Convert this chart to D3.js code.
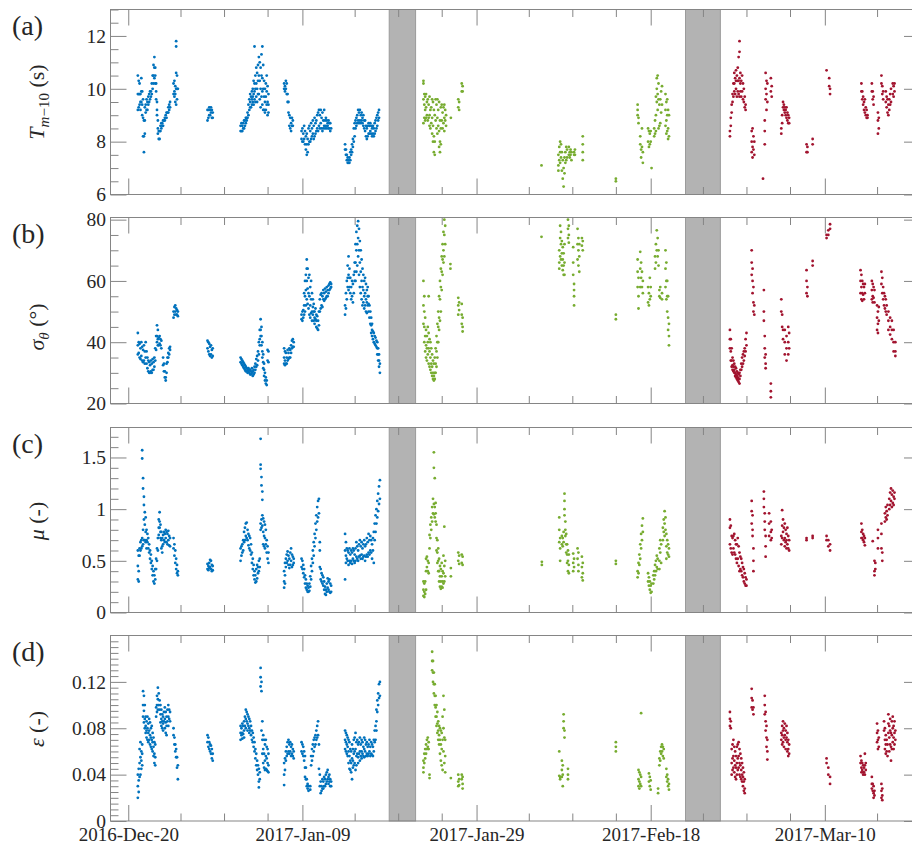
<!DOCTYPE html>
<html><head><meta charset="utf-8">
<script src="https://cdn.jsdelivr.net/npm/d3@7"></script>
<style>body{margin:0;background:#fff}svg{display:block}</style>
</head><body>
<svg id="c" width="912" height="846"></svg>
<script>
// ---------- categories / ticks ----------
const baseDate = Date.UTC(2016, 11, 20);           // day 0 = 2016-Dec-20
const xDomainDays = [-2.04, 90.93];
const majorTickDays = [0, 20, 40, 60, 80];
const majorTickLabels = ["2016-Dec-20", "2017-Jan-09", "2017-Jan-29", "2017-Feb-18", "2017-Mar-10"];
const minorTickDays = [6, 11, 16, 26, 31, 36, 46, 51, 56, 66, 71, 76, 86];
const gapBands = [[29.97, 33.0], [64.0, 68.0]];     // shaded periods (days)
const seriesColors = ["#0072BD", "#77AC30", "#A2142F"];

// ---------- series values: [day, value, value, ...] ----------
const tmBlue = [[1.1,10.5,9.8,9.2],[1.2,10.3,9.8,9.3],[1.3,10.2,9.8,9.4],[1.4,9.8,9.5,9.2],[1.5,10.4,9.9,9.5],[1.6,9.9,9.4,9.0],[1.7,9.6,8.9,8.2],[1.8,8.8,8.2,7.6],[1.9,9.3,8.8,8.3],[2.0,9.4,9.1],[2.1,9.6,9.2],[2.2,9.5,9.2],[2.3,9.7,9.4],[2.4,9.8,9.5],[2.5,9.9,9.6],[2.6,9.9,9.7],[2.7,10.2,9.8],[2.8,10.5,10.0],[2.9,10.9,10.5,10.2],[3.0,11.2,10.8,10.4],[3.1,10.8,10.5,10.2],[3.2,10.2,9.9,9.6],[3.3,9.5,9.2,9.0],[3.4,8.8,8.5,8.3],[3.5,8.4,8.1],[3.6,8.4,8.1],[3.7,8.6,8.4],[3.8,8.7,8.5],[3.9,8.7,8.6],[4.0,8.8,8.6],[4.1,8.8],[4.2,8.9,8.8],[4.3,9.0],[4.4,9.1,8.9],[4.5,9.1],[4.6,9.3,9.1],[4.7,9.4,9.2],[4.8,9.5,9.3],[5.2,10.2,9.8],[5.3,10.3,9.9,9.7],[5.4,10.1,9.8,9.5],[5.5,11.8,11.6,10.6,10.0,9.4],[5.6,10.5,10.0,9.6],[5.7,10.0],
[9.1,9.2,8.8],[9.2,9.2,8.9],[9.3,9.3,9.0],[9.4,9.2,9.0],[9.5,9.3,9.1],[9.6,9.2,8.9],[9.7,9.1,8.9],
[12.9,8.6,8.4],[13.0,8.7,8.4],[13.1,8.6,8.4],[13.2,8.7,8.5],[13.3,8.8,8.5],[13.4,8.8,8.6],[13.5,8.9,8.7],[13.6,8.9,8.8],[13.7,9.1,8.9],[13.8,9.4,9.0],[13.9,9.6,9.2],[14.0,9.8,9.5,9.3],[14.1,9.7,9.3],[14.2,9.9,9.6,9.4],[14.3,10.0,9.7,9.5],[14.4,10.3,9.8,9.4],[14.5,11.6,10.2,9.9,9.6],[14.6,10.5,10.0,9.5],[14.7,10.8,10.2,9.7],[14.8,10.6,10.0,9.5],[14.9,10.9,10.3,9.8],[15.0,11.2,10.5,9.8],[15.1,11.0,10.3,9.6],[15.2,10.8,10.0,9.3],[15.3,11.3,10.5,9.7],[15.4,11.6,10.4,9.9,9.4],[15.5,10.9,10.0,9.2],[15.6,10.3,9.7,9.2],[15.7,10.0,9.5,9.1],[15.8,10.2,9.7,9.2],[15.9,10.5,9.9,9.4],[16.0,10.1,9.5,9.0],[16.1,9.8,9.4,9.1],
[17.9,10.2,10.0],[18.0,10.1,9.9],[18.1,10.3,10.0],[18.2,10.2,9.8],[18.3,9.8,9.5],[18.4,9.5,9.1],[18.5,9.0,8.6],[18.6,8.9,8.5],[18.7,8.7,8.4],[18.8,8.9,8.6],[18.9,8.8,8.6],
[19.9,8.4,8.1],[20.0,8.5,8.0],[20.1,8.3,8.0],[20.2,8.6,8.1],[20.3,8.4,7.9],[20.4,8.2,7.7],[20.5,8.3,7.9,7.5],[20.6,8.1,7.6],[20.7,8.5,7.9],[20.8,8.6,8.0],[20.9,8.4,8.0],[21.0,8.7,8.1],[21.1,8.5,8.2],[21.2,8.8,8.3],[21.3,8.6,8.1],[21.4,8.9,8.2],[21.5,8.7,8.3],[21.6,8.8,8.4],[21.7,9.0,8.5],[21.8,9.1,8.4],[21.9,9.2,8.6],[22.0,9.0,8.5],[22.1,9.2,8.7],[22.2,8.9,8.5],[22.3,9.1,8.4],[22.4,8.8,8.5],[22.5,9.2,8.6],[22.6,8.8,8.5],[22.7,8.9,8.6],[22.8,8.8,8.5],[22.9,8.7,8.6],[23.0,8.8,8.5],[23.1,8.7,8.5],[23.2,8.7,8.4],[23.3,8.5],
[24.9,7.9,7.7],[25.0,7.7,7.5],[25.1,7.5,7.3],[25.2,7.4,7.2],[25.3,7.3,7.2],[25.4,7.4,7.2],[25.5,7.6,7.3],[25.6,7.7,7.5],[25.7,7.9,7.6],[25.8,8.1,7.8],[25.9,8.5,8.0],[26.0,8.7,8.2],[26.1,8.8,8.5],[26.2,8.9,8.6],[26.3,9.0,8.7],[26.4,9.2,8.8],[26.5,9.1,8.7],[26.6,9.2,8.8],[26.7,9.0,8.7],[26.8,9.1,8.8],[26.9,8.9,8.7],[27.0,9.0,8.6],[27.1,8.8,8.5],[27.2,8.8,8.4],[27.3,8.6,8.2],[27.4,8.5,8.1],[27.5,8.6,8.2],[27.6,8.7,8.3],[27.7,8.6,8.3],[27.8,8.7,8.4],[27.9,8.6,8.3],[28.0,8.5,8.2],[28.1,8.6,8.3],[28.2,8.5,8.2],[28.3,8.7,8.3],[28.4,8.8,8.4],[28.5,8.9,8.5],[28.6,9.0,8.6],[28.7,9.1,8.8],[28.8,9.2,8.9]];
const tmGreen = [[33.9,10.3,10.2,9.6,8.7],[34.0,9.8,9.4,8.9],[34.1,9.7,9.2,8.8],[34.2,9.8,9.3,8.9],[34.3,9.5,9.0],[34.4,9.6,8.8],[34.5,9.4,8.9],[34.6,9.7,9.0,8.6],[34.7,9.2,8.5],[34.8,9.3,8.7],[34.9,9.6,8.9,8.3],[35.0,9.5,8.6,8.0],[35.1,9.2,8.2,7.6],[35.2,9.0,8.0,7.5],[35.3,9.6,8.8],[35.4,9.4,8.5],[35.5,9.6,8.9,8.3],[35.6,9.2,8.6],[35.7,9.5,8.4,7.8],[35.8,8.8,8.0,7.6],[35.9,9.3,8.5,7.9],[36.0,9.4,8.8],[36.1,9.1,8.5],[36.2,9.3,8.7],[36.3,9.4,8.9,8.4],[36.4,9.2,8.8],[36.5,9.0,8.6],[37.05,8.9],[37.9,9.6,9.3],[38.0,9.5,9.2],[38.3,10.2,9.9],[38.4,10.1,9.9],
[47.46,7.1],[49.4,7.5,7.1,6.9],[49.5,7.8,7.3],[49.6,8.0,7.6,7.2],[49.7,7.9,7.4],[49.8,7.6,6.9],[49.9,7.3,6.6],[50.0,7.0,6.3],[50.1,7.4,6.8],[50.2,7.6,7.2],[50.3,7.8,7.3],[50.4,7.7,7.4],[50.6,7.8,7.5],[50.7,7.6,7.4],[50.8,7.7,7.5],[50.9,7.6,7.3],[51.2,7.6,7.5],[51.3,7.7,7.5],[52.2,8.2,7.9,7.6,7.3],
[56.0,6.6,6.5],[58.5,9.4,9.2,9.0],[58.6,8.9,8.7],[58.8,8.2,7.9],[58.9,7.7,7.4],[59.0,8.5,7.8],[59.1,7.6,7.2],[59.7,8.5,8.0],[59.8,8.4,7.8],[59.9,8.3,7.9],[60.0,8.4,8.0],[60.1,7.0],[60.4,8.5,8.2],[60.5,8.8,8.3],[60.6,9.7,9.0,8.4],[60.7,10.4,10.0,9.5],[60.8,10.5,9.8,9.2],[60.9,10.2,9.6,8.5],[61.0,9.4,8.6],[61.1,9.6,8.7],[61.2,9.9,9.1],[61.3,10.1,9.4],[61.7,9.8,9.2,8.6],[61.8,9.5,8.8,8.3],[61.9,9.6,9.0,8.4],[62.0,9.2,8.5,8.1],[62.1,9.0,8.2]];
const tmRed = [[69.1,8.4,8.2],[69.2,8.9,8.6],[69.3,9.4,9.1],[69.4,9.8,9.5],[69.5,10.2,9.7],[69.6,10.6,10.2,9.9],[69.7,10.4,9.8],[69.8,10.7,10.3,10.0],[69.9,10.5,9.7],[70.0,10.8,10.3,9.9],[70.1,11.2,10.3,9.8],[70.2,11.8,11.4,10.4,9.7],[70.3,10.6,10.2,9.9],[70.4,10.3,9.7],[70.5,10.5,9.9],[70.6,10.2,9.6],[70.7,10.0,9.5],[70.8,9.7,9.3],[70.9,9.4,9.2],
[71.6,8.4,8.0,7.6],[71.7,8.5,7.8,7.4],[71.8,8.2,7.7],[71.9,8.0,7.5],[72.9,6.6],[73.1,8.8,8.4,7.9],[73.2,10.6,10.0,9.6],[73.3,10.3,9.8,9.2],[73.4,10.2,9.5],[73.8,10.4,9.9],[73.9,10.1,9.7],
[75.0,8.5,8.3],[75.1,9.0,8.7],[75.2,9.5,9.3],[75.3,9.4,9.2],[75.4,9.3,9.1],[75.5,9.2,9.0],[75.6,9.3,8.9],[75.7,9.1,8.8],[75.8,9.0,8.7],[75.9,8.9,8.7],
[77.9,7.9,7.6],[78.0,7.8,7.6],[78.6,8.1,7.9],[80.2,10.7],[80.5,10.4,10.1],[80.6,10.0,9.8],
[84.2,10.2,9.9],[84.3,9.9,9.6],[84.4,9.7,9.4],[84.5,9.5,9.2],[84.6,9.6,9.1],[84.7,9.3,9.0],[84.8,9.2,8.9],[84.9,9.0,8.9],[85.4,10.2,9.9],[85.5,9.9,9.6],[85.6,9.7,9.4],[86.1,9.1,8.8,8.3],[86.2,8.9,8.5],[86.5,10.5,10.2],[86.6,10.1,9.8],[86.7,9.9,9.6],[87.0,9.9,9.5],[87.1,9.7,9.3],[87.2,9.6,9.1],[87.3,9.4,9.0],[87.4,9.6,9.2],[87.5,9.8,9.4],[87.6,10.0,9.5],[87.8,10.2,9.8],[87.9,10.1,9.7],[88.0,10.2,9.9]];

const sigBlue = [[1.1,43.0,39.0,36.0],[1.2,40.0,36.5],[1.3,39.5,35.0],[1.4,38.0,34.5],[1.5,40.0,35.5],[1.6,38.5,34.0],[1.7,37.5,33.5],[1.8,39.0,34.0],[1.9,37.0,33.0],[2.0,40.0,35.0],[2.1,37.0,33.0],[2.2,35.0,31.5],[2.3,34.0,30.5],[2.4,33.5,30.0],[2.5,32.5,30.0],[2.6,34.0,30.5],[2.7,33.0,30.0],[2.8,34.5,31.0],[2.9,33.5,31.0],[3.0,35.0,32.0],[3.1,38.0,34.0],[3.2,42.0,37.5],[3.3,45.5,42.0,40.0],[3.4,44.0,41.0,39.0],[3.5,41.5,39.0],[3.6,42.0,39.5],[3.7,41.0,39.0],[3.8,40.5,38.0],[4.0,35.0,32.5],[4.1,33.0,30.5],[4.2,30.5,28.5],[4.3,28.5,27.5],[4.4,33.0,30.0],[4.5,35.0,33.5],[4.6,36.5,35.0],[4.7,38.0,36.0],[4.8,38.5,37.5],[5.2,50.0,48.0],[5.3,51.5,49.0],[5.4,52.0,50.0],[5.5,51.0,49.0],[5.6,50.5,49.0],[5.7,50.0,48.5],
[9.1,40.5,38.0],[9.2,40.0,37.0],[9.3,39.5,36.0],[9.4,38.5,35.5],[9.5,39.0,36.0],[9.6,37.5,35.0],[9.7,38.0,35.5],
[12.9,35.0,33.5],[13.0,34.5,33.0],[13.1,34.0,32.5],[13.2,33.5,32.0],[13.3,33.0,31.5],[13.4,32.5,31.0],[13.5,32.0,30.5],[13.6,31.5,30.5],[13.7,31.0,30.0],[13.8,31.5,30.5],[13.9,31.0,30.0],[14.0,31.0,29.5],[14.1,30.5,29.5],[14.2,31.5,30.0],[14.3,30.5,29.0],[14.4,31.0,29.5],[14.5,32.0,30.0],[14.6,33.0,31.0],[14.7,34.5,32.0],[14.8,35.5,32.5],[14.9,37.0,34.0],[15.0,40.0,36.0],[15.1,44.0,41.0,39.0],[15.2,47.5,44.0,42.0],[15.3,45.0,42.0,39.0],[15.4,40.0,37.0,35.0],[15.5,36.0,33.5,31.5],[15.6,33.0,31.0,29.0],[15.7,30.0,27.5],[15.8,28.5,26.5],[15.9,27.5,26.0],[16.0,37.5,34.0],[16.1,37.0,33.5],
[17.9,38.0,35.0,33.0],[18.0,37.0,34.0,32.5],[18.1,36.5,33.0],[18.2,35.0,33.0],[18.3,37.5,34.0],[18.4,36.5,34.5],[18.5,38.0,35.0],[18.6,37.5,35.0],[18.7,39.0,36.5],[18.8,40.5,38.0],[18.9,41.0,38.5],[19.0,40.0,38.5],
[19.9,49.0,47.5],[20.0,50.0,47.0],[20.1,50.5,48.0],[20.2,56.0,52.0,49.0],[20.3,60.0,55.0,50.0],[20.4,62.0,57.0,52.0],[20.5,67.0,64.0,60.0,54.0],[20.6,64.0,57.5,52.5],[20.7,61.0,56.0,51.0],[20.8,62.0,55.0,49.0],[20.9,58.0,52.0,48.0],[21.0,60.0,54.0,49.5],[21.1,56.0,50.0,47.0],[21.2,54.0,51.5,49.0],[21.3,52.5,50.0,47.0],[21.4,50.0,48.0,46.0],[21.5,51.0,47.5],[21.6,49.0,47.0,45.0],[21.7,48.5,44.5],[21.8,47.0,44.0],[21.9,50.0,45.5],[22.0,54.0,50.0],[22.1,55.5,51.0],[22.2,56.0,52.0],[22.3,55.0,51.5],[22.4,57.0,54.0],[22.5,56.0,53.5],[22.6,57.5,54.0],[22.7,56.5,54.5],[22.8,58.0,55.0],[22.9,57.0,55.0],[23.0,58.5,56.0],[23.1,59.0,57.0],[23.2,59.5,57.5],[23.3,59.0,58.0],
[24.9,52.0,49.0],[25.0,56.0,51.0],[25.1,60.0,54.0],[25.2,65.0,61.0,58.0],[25.3,68.0,62.0,57.0],[25.4,64.0,61.0,58.0],[25.5,61.0,56.0],[25.6,58.0,54.0],[25.7,60.0,55.0],[25.8,59.0,53.0],[25.9,62.0,56.0],[26.0,66.0,63.0,60.0],[26.1,72.0,66.0,60.0],[26.2,76.0,70.0,63.0],[26.3,78.0,72.0,65.0],[26.4,79.5,74.0,68.0],[26.5,77.0,70.0,62.0],[26.6,73.0,66.0,58.0],[26.7,70.0,63.0,56.0],[26.8,67.0,60.0,54.0],[26.9,64.0,58.0,52.0],[27.0,62.0,57.0,53.0],[27.1,60.0,55.0,51.0],[27.2,61.0,56.0,52.0],[27.3,59.0,54.0,50.0],[27.4,57.0,53.0,49.5],[27.5,58.0,55.0,52.0],[27.6,55.0,52.5,50.0],[27.7,52.0,48.0],[27.8,50.0,46.0],[27.9,48.0,45.5,43.0],[28.0,46.0,44.0,42.0],[28.1,43.5,41.0],[28.2,43.0,40.0],[28.3,42.0,39.5],[28.4,41.5,39.0],[28.5,40.5,38.5],[28.6,40.0,38.0,36.0],[28.7,38.0,36.0,34.0],[28.8,36.0,34.0,32.0],[28.9,33.0,30.0]];
const sigGreen = [[33.9,60.0,52.0,46.0],[34.0,55.0,50.0,45.0,40.0],[34.1,48.0,42.0,37.0],[34.2,44.0,39.0,35.0],[34.3,42.0,38.0,34.0],[34.4,45.0,40.0,36.0],[34.5,55.0,43.0,38.0,33.0],[34.6,41.0,37.0,32.0],[34.7,40.0,35.0,31.0],[34.8,38.0,33.0,30.0],[34.9,36.0,32.0,29.0],[35.0,34.0,30.0,28.0],[35.1,33.0,29.0,27.5],[35.2,35.0,30.0,28.0],[35.3,38.0,33.0,30.0],[35.4,42.0,37.0,32.0],[35.5,46.0,40.0,35.0],[35.6,50.0,45.0,40.0],[35.7,55.0,48.0,44.0],[35.8,60.0,54.0,47.0],[35.9,64.0,58.0,50.0],[36.0,68.0,63.0,57.0],[36.1,72.0,67.0,62.0],[36.2,76.0,70.0,66.0],[36.3,80.0,75.0,68.0],[36.4,78.0,72.0],[37.0,65.5,64.0],[37.9,54.5,52.0,49.0],[38.0,53.0,50.5],[38.3,52.5,49.0,46.0],[38.4,48.0,45.0,43.5],
[47.46,74.4],[49.5,70.0,66.0,64.0],[49.6,78.0,74.0,68.0],[49.7,76.0,72.0,67.0],[49.8,73.0,69.0,65.0],[49.9,71.0,67.0,63.5],[50.0,69.0,65.0,62.0],[50.1,72.0,66.0,62.0],[50.5,80.0,77.0,74.0],[50.6,78.0,75.0,72.5],[51.1,71.0,66.0,62.0],[51.2,59.0,57.0,55.0,52.0],[51.6,77.0,72.0,67.0],[51.7,74.0,70.0,65.0],[51.8,72.0,68.0,63.0],[52.1,74.0,71.5],[52.2,73.0,70.0],
[56.0,49.0,47.5],[58.5,67.0,63.0,58.0],[58.6,61.0,55.0,51.0],[58.8,69.5,64.0,58.0],[58.9,66.0,61.0],[59.0,63.0,58.0],[59.1,60.0,56.0],[59.7,58.0,53.0],[59.8,56.0,52.0],[59.9,61.0,54.0],[60.0,58.0,55.0],[60.5,68.0,64.0],[60.6,72.0,66.0],[60.7,76.5,70.0],[60.8,74.0,68.0],[60.9,70.0,65.0],[61.0,57.0,55.0],[61.1,58.0,54.5],[61.3,56.0,54.0],[61.7,70.0,64.0,58.0],[61.8,66.0,60.0,54.0],[61.9,60.0,55.0,50.0],[62.0,55.0,48.0,44.0],[62.1,46.0,42.0,39.0]];
const sigRed = [[69.1,44.0,41.0,38.0],[69.2,41.0,37.0,34.0],[69.3,38.0,34.0,32.0],[69.4,35.0,32.5,31.0],[69.5,34.0,32.0,30.5],[69.6,33.0,31.0,30.0],[69.7,32.0,30.0,29.0],[69.8,31.5,29.5,28.5],[69.9,30.5,29.0,28.0],[70.0,30.0,28.5,27.5],[70.1,29.5,28.0,27.0],[70.2,30.0,28.0,26.5],[70.3,31.0,29.0],[70.4,33.0,31.0],[70.5,35.0,32.0],[70.6,36.0,33.0],[70.7,37.0,34.0],[70.8,38.0,35.5],[70.9,41.0,37.0],[71.0,43.0,39.0],
[71.6,70.0,66.0,62.0],[71.7,64.0,60.0,56.0],[71.8,58.0,53.0,50.0],[71.9,52.0,49.0],[73.0,57.0,50.0,47.0],[73.1,42.0,38.0,35.0],[73.2,36.0,33.0,31.5],[73.8,26.5,24.0,22.0],
[75.0,54.0,50.0],[75.1,49.0,45.0],[75.2,44.0,41.0],[75.4,44.0,40.0,36.0],[75.6,42.0,38.0,34.0],[75.8,45.0,40.0,36.0],[75.9,43.0,38.0],
[77.9,63.5,60.0,56.0],[78.0,58.0,55.0],[78.6,66.5,65.0],[80.2,75.0,74.0],[80.4,76.5,75.0],[80.6,78.5,77.0],
[84.1,63.5,60.0,56.0],[84.2,62.0,58.0,54.0],[84.3,60.0,56.0,53.5],[84.4,59.0,55.5],[84.5,58.0,54.0],[84.6,59.0,56.0],[85.4,60.0,57.0,54.0],[85.5,59.0,55.0,53.0],[85.6,58.0,54.5],[85.7,57.0,53.0],[86.0,52.0,48.0,44.0],[86.1,50.0,46.0,43.0],[86.2,51.5,47.0],[86.5,63.0,59.0],[86.6,61.0,56.0],[86.7,58.0,54.0],[86.8,56.0,52.0],[86.9,55.0,51.0],[87.0,54.0,50.0],[87.1,52.0,49.0],[87.3,50.0,47.0,44.0],[87.5,48.0,45.0,42.5],[87.7,47.0,44.0,41.0],[87.9,44.0,40.0,37.0],[88.1,40.0,37.0,35.5]];

const muBlue = [[1.1,0.60,0.45,0.32],[1.2,0.55,0.40,0.30],[1.3,0.62,0.55],[1.4,0.68,0.60],[1.5,0.70,0.62],[1.6,1.57,1.49,0.72,0.64],[1.7,1.30,1.20,0.80,0.66],[1.8,1.12,1.04,0.90,0.70],[1.9,0.97,0.85,0.70],[2.0,0.92,0.78,0.68],[2.1,0.80,0.70,0.62],[2.2,0.76,0.68],[2.3,0.72,0.62],[2.4,0.66,0.58],[2.5,0.60,0.52],[2.6,0.56,0.48],[2.7,0.50,0.42],[2.8,0.45,0.36],[2.9,0.40,0.30],[3.0,0.36,0.28],[3.1,0.42,0.32],[3.2,0.52,0.42],[3.3,0.62,0.50],[3.4,0.72,0.60],[3.5,0.90,0.82,0.75],[3.6,0.97,0.88,0.82],[3.7,0.85,0.78,0.72],[3.8,0.78,0.70,0.62],[3.9,0.72,0.64,0.58],[4.0,0.75,0.66],[4.1,0.78,0.70],[4.2,0.76,0.68],[4.3,0.80,0.72],[4.4,0.78,0.68],[4.5,0.76,0.66],[4.6,0.79,0.70],[4.7,0.74,0.65],[4.8,0.72,0.64],[5.2,0.72,0.62],[5.3,0.66,0.55],[5.4,0.60,0.48],[5.5,0.52,0.42],[5.6,0.46,0.38],[5.7,0.40,0.36],
[9.1,0.47,0.42],[9.2,0.45,0.41],[9.3,0.48,0.43],[9.4,0.51,0.44],[9.5,0.50,0.42],[9.6,0.46,0.40],[9.7,0.45,0.41],
[12.9,0.62,0.50],[13.0,0.64,0.55],[13.1,0.66,0.58],[13.2,0.70,0.60],[13.3,0.78,0.68],[13.4,0.82,0.70],[13.5,0.86,0.74],[13.6,0.87,0.72],[13.7,0.80,0.70],[13.8,0.76,0.65],[13.9,0.74,0.62],[14.0,0.72,0.60],[14.1,0.66,0.56],[14.2,0.58,0.48],[14.3,0.52,0.42],[14.4,0.46,0.36],[14.5,0.40,0.32],[14.6,0.36,0.29],[14.7,0.42,0.30],[14.8,0.46,0.33],[14.9,0.44,0.38],[15.0,0.50,0.40],[15.1,0.52,0.44],[15.2,1.68,1.43,1.39,0.86,0.80],[15.3,1.31,1.23,0.90,0.82],[15.4,1.17,1.09,0.94,0.84],[15.5,0.91,0.78,0.66],[15.6,0.88,0.74,0.64],[15.7,0.85,0.72,0.62],[15.8,0.80,0.66],[15.9,0.70,0.58],[16.0,0.64,0.52],[16.1,0.58,0.48],
[17.9,0.40,0.30,0.24],[18.0,0.48,0.36,0.28],[18.1,0.52,0.44],[18.2,0.56,0.48],[18.3,0.59,0.50],[18.4,0.55,0.46],[18.5,0.52,0.43],[18.6,0.58,0.46],[18.7,0.62,0.50],[18.8,0.56,0.44],[18.9,0.54,0.46],[19.0,0.52,0.48],
[19.9,0.52,0.44],[20.0,0.50,0.42],[20.1,0.46,0.38],[20.2,0.42,0.34],[20.3,0.36,0.28],[20.4,0.32,0.24],[20.5,0.28,0.22],[20.6,0.26,0.20],[20.7,0.24,0.20],[20.8,0.28,0.21],[20.9,0.35,0.25],[21.0,0.45,0.32],[21.1,0.52,0.40],[21.2,0.60,0.48],[21.3,0.68,0.55],[21.4,0.76,0.64],[21.5,0.86,0.72],[21.6,0.94,0.80],[21.7,1.02,0.88],[21.8,1.08,0.92],[21.9,1.10,0.96],[22.0,0.68,0.60,0.44],[22.1,0.42,0.32],[22.2,0.38,0.30],[22.3,0.36,0.28],[22.4,0.34,0.26],[22.5,0.30,0.22],[22.6,0.25,0.18],[22.7,0.22,0.17],[22.8,0.28,0.20],[22.9,0.33,0.24],[23.0,0.30,0.22],[23.1,0.32,0.20],[23.2,0.28,0.19],[23.3,0.26,0.20],
[24.9,0.76,0.60,0.32],[25.0,0.68,0.55,0.48],[25.1,0.62,0.52],[25.2,0.60,0.50],[25.3,0.58,0.46],[25.4,0.62,0.50],[25.5,0.56,0.48],[25.6,0.60,0.50],[25.7,0.58,0.47],[25.8,0.62,0.52],[25.9,0.60,0.50],[26.0,0.56,0.48],[26.1,0.62,0.50],[26.2,0.68,0.54],[26.3,0.64,0.52],[26.4,0.60,0.50],[26.5,0.66,0.54],[26.6,0.70,0.55],[26.7,0.64,0.52],[26.8,0.68,0.56],[26.9,0.62,0.52],[27.0,0.66,0.54],[27.1,0.70,0.55],[27.2,0.64,0.50],[27.3,0.66,0.54],[27.4,0.72,0.56],[27.5,0.68,0.54],[27.6,0.76,0.58],[27.7,0.70,0.56],[27.8,0.74,0.60],[27.9,0.70,0.58],[28.0,0.66,0.52],[28.1,0.72,0.60],[28.2,0.78,0.48],[28.3,0.86,0.70],[28.4,0.94,0.78],[28.5,1.00,0.86],[28.6,1.08,0.92],[28.7,1.15,0.98],[28.8,1.22,1.05],[28.9,1.28,1.10]];
const muGreen = [[33.9,0.30,0.22,0.16],[34.0,0.28,0.20,0.15],[34.1,0.30,0.18],[34.2,0.52,0.40,0.22],[34.3,0.54,0.44],[34.4,0.50,0.40],[34.5,0.48,0.38],[34.6,0.75,0.62],[34.7,0.85,0.72],[34.8,0.92,0.80],[34.9,1.02,0.88],[35.0,1.10,0.96],[35.1,1.55,1.40,1.05,0.95],[35.2,1.30,1.02,0.92],[35.3,1.06,0.96,0.88],[35.4,0.85,0.72,0.60],[35.5,0.70,0.58,0.48],[35.6,0.62,0.50,0.40],[35.7,0.52,0.40,0.30],[35.8,0.45,0.35,0.25],[35.9,0.42,0.30,0.23],[36.0,0.48,0.35,0.25],[36.1,0.40,0.30,0.24],[36.2,0.55,0.38,0.28],[36.3,0.83,0.45,0.30],[36.4,0.50,0.35],[37.05,0.43,0.35],[37.9,0.58,0.50],[38.0,0.55,0.47],[38.3,0.56,0.48],[38.4,0.54,0.46],
[47.5,0.49,0.46],[49.5,0.92,0.80,0.68],[49.6,0.72,0.62,0.50],[49.8,0.74,0.66],[49.9,0.72,0.64],[50.0,0.78,0.68],[50.1,1.15,1.08,1.00,0.94],[50.2,0.88,0.80,0.74],[50.3,0.76,0.66,0.58],[50.4,0.66,0.56,0.48],[50.5,0.60,0.50,0.40],[50.6,0.56,0.46,0.38],[51.1,0.57,0.48,0.40],[51.2,0.52,0.44],[51.6,0.62,0.52],[51.7,0.58,0.46,0.40],[52.1,0.54,0.44,0.34],[52.2,0.48,0.38,0.31],
[56.0,0.50,0.47],[58.5,0.40,0.34],[58.6,0.48,0.38],[58.7,0.56,0.46],[58.8,0.66,0.52],[58.9,0.76,0.62],[59.0,0.84,0.70],[59.1,0.91,0.78],[59.7,0.38,0.30],[59.8,0.34,0.26],[59.9,0.30,0.22],[60.0,0.26,0.19],[60.1,0.28,0.20],[60.3,0.36,0.28],[60.4,0.40,0.32],[60.5,0.46,0.36],[60.6,0.50,0.40],[60.7,0.55,0.44],[60.8,0.52,0.42],[61.0,0.62,0.50,0.42],[61.1,0.70,0.58],[61.2,0.66,0.48],[61.4,0.82,0.70],[61.5,0.90,0.78],[61.6,0.98,0.86,0.74],[61.7,0.92,0.80],[61.8,0.76,0.64,0.52],[61.9,0.70,0.58],[62.0,0.66,0.56],[62.1,0.62,0.54]];
const muRed = [[69.1,0.90,0.82,0.66],[69.2,0.84,0.62],[69.3,0.74,0.58],[69.4,0.72,0.56],[69.5,0.74,0.62],[69.6,0.76,0.58],[69.7,0.70,0.56],[69.8,0.66,0.52],[69.9,0.66,0.48],[70.0,0.72,0.52],[70.1,0.64,0.45],[70.2,0.58,0.40],[70.3,0.54,0.42],[70.4,0.52,0.40],[70.5,0.48,0.36],[70.6,0.44,0.34],[70.7,0.42,0.30],[70.8,0.38,0.28],[70.9,0.34,0.26],[71.0,0.32,0.26],
[71.6,1.08,0.98,0.86],[71.7,0.94,0.80,0.74],[71.8,0.62,0.50,0.40],[73.0,1.17,1.10,1.02],[73.1,0.96,0.88,0.80],[73.2,0.74,0.64,0.54],[73.6,0.96,0.86,0.74],[73.8,0.88,0.78,0.70],[73.9,0.80,0.72],
[75.0,0.74,0.66],[75.1,0.99,0.84,0.72],[75.2,0.90,0.78],[75.3,0.82,0.70],[75.4,0.86,0.72,0.64],[75.5,0.80,0.68],[75.6,0.76,0.70,0.62],[75.7,0.82,0.66],[75.8,0.74,0.62],[75.9,0.70,0.60],
[77.9,0.72,0.70],[78.6,0.74,0.72],[80.2,0.74,0.70],[80.4,0.70,0.64],[80.6,0.66,0.60],
[84.2,0.86,0.78,0.72],[84.3,0.80,0.72],[84.4,0.76,0.70],[84.5,0.74,0.68],[84.6,0.72,0.65],[85.5,0.69],[85.7,0.50,0.40,0.36],[85.8,0.48,0.42],[86.1,0.80,0.72,0.62],[86.5,0.86,0.76,0.62],[86.6,0.58,0.50],[86.9,0.96,0.88],[87.0,1.02,0.92],[87.1,0.98,0.90],[87.2,1.04,0.94],[87.4,1.10,1.00],[87.5,1.16,1.04],[87.6,1.20,1.08],[87.7,1.14,1.02],[87.8,1.18,1.06],[87.9,1.12,1.04],[88.0,1.16,1.10]];

const epsBlue = [[1.1,0.040,0.030,0.020],[1.2,0.045,0.035,0.025],[1.3,0.062,0.050,0.038],[1.4,0.068,0.055,0.040],[1.5,0.060,0.052,0.045],[1.6,0.066,0.058,0.048],[1.7,0.112,0.100,0.090],[1.8,0.108,0.095,0.085],[1.9,0.100,0.088,0.080],[2.0,0.090,0.082,0.076],[2.1,0.086,0.078,0.072],[2.2,0.090,0.080,0.070],[2.3,0.084,0.076,0.068],[2.4,0.088,0.078,0.070],[2.5,0.085,0.074,0.066],[2.6,0.080,0.072,0.064],[2.7,0.082,0.070,0.062],[2.8,0.076,0.068,0.060],[2.9,0.072,0.064,0.056],[3.0,0.068,0.058,0.050],[3.1,0.066,0.055,0.048],[3.2,0.098,0.090],[3.3,0.108,0.100,0.094],[3.4,0.115,0.105,0.096],[3.5,0.110,0.100],[3.6,0.104,0.096],[3.7,0.100,0.092,0.085],[3.8,0.096,0.088,0.082],[3.9,0.092,0.086,0.080],[4.0,0.090,0.084,0.078],[4.1,0.094,0.086],[4.2,0.098,0.088,0.080],[4.3,0.094,0.085,0.076],[4.4,0.090,0.082,0.074],[4.5,0.096,0.086],[4.6,0.100,0.090,0.082],[4.7,0.096,0.088],[4.8,0.094,0.086],[5.2,0.080,0.074],[5.3,0.072,0.066],[5.4,0.066,0.060],[5.5,0.062,0.055],[5.6,0.055,0.046],[5.7,0.048,0.036],
[9.1,0.074,0.068],[9.2,0.072,0.064],[9.3,0.068,0.062],[9.4,0.066,0.060],[9.5,0.065,0.058],[9.6,0.062,0.054],[9.7,0.058,0.052],
[12.9,0.082,0.076,0.070],[13.0,0.080,0.074],[13.1,0.084,0.076,0.071],[13.2,0.082,0.075],[13.3,0.086,0.078,0.072],[13.4,0.090,0.082],[13.5,0.096,0.088,0.080],[13.6,0.094,0.086],[13.7,0.092,0.084,0.078],[13.8,0.090,0.082],[13.9,0.088,0.080,0.076],[14.0,0.086,0.078],[14.1,0.082,0.074],[14.2,0.078,0.070],[14.3,0.076,0.068],[14.4,0.072,0.064],[14.5,0.068,0.060],[14.6,0.062,0.054],[14.7,0.058,0.048],[14.8,0.052,0.044],[14.9,0.048,0.040],[15.0,0.045,0.034,0.029],[15.1,0.042,0.036],[15.2,0.132,0.124,0.116],[15.3,0.120,0.112,0.078],[15.4,0.086,0.070,0.058],[15.5,0.074,0.062,0.050],[15.6,0.070,0.058,0.046],[15.7,0.066,0.052,0.044],[15.8,0.070,0.056,0.045],[15.9,0.064,0.054,0.044],[16.0,0.062,0.050,0.043],[16.1,0.058,0.048,0.042],
[17.9,0.050,0.040,0.031],[18.0,0.054,0.044],[18.1,0.060,0.052],[18.2,0.064,0.056],[18.3,0.068,0.058],[18.4,0.070,0.060],[18.5,0.066,0.058],[18.6,0.068,0.060],[18.7,0.064,0.056],[18.8,0.066,0.058],[18.9,0.062,0.056],[19.0,0.060,0.054],
[19.9,0.068,0.060],[20.0,0.066,0.058],[20.1,0.064,0.056],[20.2,0.060,0.052],[20.3,0.056,0.046,0.038],[20.4,0.046,0.036],[20.5,0.036,0.030],[20.6,0.032,0.028],[20.7,0.030,0.026],[20.9,0.030,0.027],[21.0,0.056,0.048],[21.1,0.062,0.052],[21.2,0.066,0.056],[21.3,0.070,0.060],[21.4,0.072,0.064],[21.5,0.074,0.066],[21.6,0.078,0.070],[21.7,0.082,0.072],[21.8,0.086,0.074],[21.9,0.066,0.045],[22.0,0.040,0.030],[22.1,0.034,0.024],[22.2,0.030,0.026],[22.3,0.036,0.028],[22.4,0.034,0.028],[22.5,0.038,0.030],[22.6,0.036,0.030],[22.7,0.040,0.032],[22.8,0.042,0.034],[22.9,0.044,0.036],[23.0,0.038,0.032],[23.1,0.040,0.034],[23.2,0.036,0.030],[23.3,0.034,0.030],
[24.9,0.078,0.070,0.062],[25.0,0.076,0.068,0.060],[25.1,0.074,0.066,0.058],[25.2,0.072,0.064,0.056],[25.3,0.070,0.060,0.050],[25.4,0.068,0.056,0.045],[25.5,0.062,0.052,0.044],[25.6,0.060,0.050,0.042],[25.7,0.066,0.054,0.036],[25.8,0.062,0.052,0.046],[25.9,0.070,0.058,0.048],[26.0,0.072,0.060,0.050],[26.1,0.076,0.062,0.044],[26.2,0.068,0.056,0.048],[26.3,0.070,0.058],[26.4,0.066,0.055,0.050],[26.5,0.068,0.058],[26.6,0.072,0.060,0.052],[26.7,0.066,0.056],[26.8,0.070,0.060,0.054],[26.9,0.068,0.058],[27.0,0.064,0.056],[27.1,0.072,0.062,0.055],[27.2,0.070,0.060],[27.3,0.066,0.056],[27.4,0.068,0.058],[27.5,0.064,0.056],[27.6,0.066,0.058],[27.7,0.070,0.060],[27.8,0.064,0.056],[27.9,0.068,0.058],[28.0,0.066,0.057],[28.1,0.064,0.056],[28.2,0.070,0.060],[28.3,0.078,0.068],[28.4,0.082,0.070],[28.5,0.096,0.086,0.078],[28.6,0.104,0.094],[28.7,0.110,0.100],[28.8,0.118,0.106],[28.9,0.120,0.108]];
const epsGreen = [[33.9,0.052,0.046,0.042],[34.0,0.058,0.050],[34.1,0.062,0.054],[34.2,0.066,0.058],[34.3,0.070,0.062],[34.4,0.072,0.064],[34.5,0.068,0.062],[34.6,0.040,0.037],[34.9,0.146,0.138,0.130],[35.0,0.138,0.128,0.120],[35.1,0.128,0.118,0.110],[35.2,0.118,0.108,0.100],[35.3,0.108,0.098,0.090],[35.4,0.100,0.090,0.082],[35.5,0.094,0.084,0.076],[35.6,0.086,0.078,0.070],[35.7,0.082,0.074,0.066],[35.8,0.080,0.070,0.058],[35.9,0.078,0.066,0.052],[36.0,0.076,0.062,0.048],[36.1,0.090,0.070,0.044],[36.2,0.108,0.080,0.060],[36.3,0.096,0.072,0.050],[36.4,0.070,0.056,0.042],[37.05,0.037],[37.9,0.040,0.034,0.030],[38.0,0.036,0.031],[38.3,0.040,0.036],[38.4,0.038,0.032,0.028],
[49.5,0.060,0.039],[49.6,0.038,0.036],[49.8,0.052,0.044,0.038],[49.9,0.048,0.040,0.030],[50.0,0.092,0.086,0.080],[50.1,0.078,0.072],[50.5,0.045,0.040,0.036],
[56.0,0.068,0.064,0.060],[58.6,0.044,0.036,0.030],[58.7,0.042,0.034,0.028],[58.8,0.040,0.032],[58.9,0.093,0.038,0.030],[59.8,0.041,0.034],[59.9,0.038,0.030],[60.0,0.035,0.027],[60.85,0.028,0.024],[61.0,0.054,0.048],[61.1,0.060,0.052],[61.2,0.064,0.058],[61.3,0.066,0.060],[61.4,0.064,0.056],[61.5,0.062,0.054],[61.8,0.045,0.038],[61.9,0.040,0.034],[62.0,0.036,0.030],[62.1,0.032,0.027]];
const epsRed = [[69.1,0.094,0.088,0.082],[69.2,0.086,0.080],[69.3,0.062,0.050,0.040],[69.4,0.066,0.054,0.044],[69.5,0.070,0.056,0.046],[69.6,0.064,0.052,0.042],[69.7,0.060,0.048,0.038],[69.8,0.056,0.046,0.036],[69.9,0.064,0.050,0.040],[70.0,0.066,0.054,0.044],[70.1,0.068,0.056,0.046],[70.2,0.062,0.050,0.040],[70.3,0.058,0.048,0.038],[70.4,0.054,0.044,0.036],[70.5,0.050,0.040,0.034],[70.6,0.046,0.038,0.030],[70.7,0.042,0.034,0.026],[70.8,0.036,0.028,0.024],
[71.6,0.114,0.106,0.098],[71.7,0.104,0.096],[71.8,0.098,0.092],[73.1,0.108,0.100,0.092],[73.2,0.094,0.086,0.078],[73.3,0.082,0.072,0.064],[73.4,0.070,0.060,0.053],
[75.0,0.076,0.070],[75.1,0.082,0.074,0.066],[75.2,0.086,0.078,0.068],[75.3,0.080,0.072,0.064],[75.4,0.084,0.074],[75.5,0.078,0.070,0.062],[75.6,0.082,0.072],[75.7,0.076,0.068,0.060],[75.8,0.070,0.062,0.056],[75.9,0.066,0.058],
[80.2,0.054,0.050],[80.4,0.046,0.040],[80.6,0.038,0.032],
[84.1,0.056,0.050],[84.2,0.052,0.046,0.042],[84.3,0.050,0.044],[84.4,0.048,0.042,0.040],[84.5,0.046,0.042],[84.6,0.058,0.048,0.040],[84.7,0.050,0.044],[85.4,0.038,0.032,0.028],[85.5,0.032,0.026],[85.6,0.030,0.024,0.020],[85.7,0.026,0.022],[86.0,0.084,0.076,0.068],[86.1,0.078,0.070,0.062],[86.2,0.072,0.064],[86.5,0.032,0.026,0.020],[86.6,0.028,0.022,0.018],[86.8,0.086,0.078],[86.9,0.080,0.070,0.062],[87.0,0.074,0.066,0.058],[87.1,0.070,0.060],[87.2,0.066,0.056],[87.3,0.092,0.084,0.076],[87.4,0.082,0.072,0.060],[87.5,0.088,0.078,0.066],[87.6,0.076,0.064,0.052],[87.7,0.086,0.074,0.062],[87.8,0.090,0.080,0.068],[87.9,0.082,0.072,0.062],[88.0,0.086,0.076,0.066],[88.1,0.078,0.070]];

// ---------- axis tick values ----------
const tmMajor = [6, 8, 10, 12], sigMajor = [20, 40, 60, 80], muMajor = [0, 0.5, 1, 1.5], epsMajor = [0, 0.04, 0.08, 0.12];
const tmLabels = ["6", "8", "10", "12"], sigLabels = ["20", "40", "60", "80"], muLabels = ["0", "0.5", "1", "1.5"], epsLabels = ["0", "0.04", "0.08", "0.12"];

// ---------- drawing ----------
const svg = d3.select("#c");
const FONT = "Liberation Serif, Times New Roman, serif";
const AX = "#858585", TXT = "#262626";
const day = d => new Date(baseDate + d * 864e5);
const x = d3.scaleUtc().domain(xDomainDays.map(day)).range([110.5, 920]);

function minorTicks(lo, hi, step, majors) {
  const out = [];
  const n = Math.round((hi - lo) / step);
  for (let i = 0; i <= n; i++) {
    const v = +(lo + i * step).toFixed(6);
    if (!majors.some(m => Math.abs(m - v) < step / 10)) out.push(v);
  }
  return out;
}

const panels = [
  {tag: "(a)", top: 9.5, bottom: 194.5, domain: [6, 13], major: tmMajor, labels: tmLabels, minor: minorTicks(6, 13, 0.5, tmMajor), series: [tmBlue, tmGreen, tmRed], titleY: 102,
   title: [["T", 1, 0], ["m", 1, 1], ["\u221210", 0, 1], [" (s)", 0, 0]]},
  {tag: "(b)", top: 217.5, bottom: 403.5, domain: [20, 80.7], major: sigMajor, labels: sigLabels, minor: minorTicks(20, 80, 5, sigMajor), series: [sigBlue, sigGreen, sigRed], titleY: 327,
   title: [["\u03C3", 1, 0], ["\u03B8", 1, 1], [" (\u00B0)", 0, 0]]},
  {tag: "(c)", top: 427.5, bottom: 612.5, domain: [0, 1.79], major: muMajor, labels: muLabels, minor: minorTicks(0, 1.7, 0.1, muMajor), series: [muBlue, muGreen, muRed], titleY: 521,
   title: [["\u03BC", 1, 0], [" (-)", 0, 0]]},
  {tag: "(d)", top: 635.5, bottom: 821, domain: [0, 0.16], major: epsMajor, labels: epsLabels, minor: minorTicks(0, 0.155, 0.005, epsMajor), series: [epsBlue, epsGreen, epsRed], titleY: 729,
   title: [["\u03B5", 1, 0], [" (-)", 0, 0]]}
];

panels.forEach((p, pi) => {
  const y = d3.scaleLinear().domain(p.domain).range([p.bottom, p.top]);
  const g = svg.append("g");
  const x0 = x.range()[0], x1 = x.range()[1];

  // shaded periods
  g.selectAll("rect.band").data(gapBands).join("rect").attr("class", "band")
    .attr("x", d => x(day(d[0]))).attr("width", d => x(day(d[1])) - x(day(d[0])))
    .attr("y", p.top).attr("height", p.bottom - p.top)
    .attr("fill", "#b3b3b3").attr("stroke", "#9a9a9a").attr("stroke-width", 1);

  // points
  p.series.forEach((rows, si) => {
    const pts = rows.flatMap(r => r.slice(1).map(v => ({t: r[0], v})));
    g.append("g").selectAll("circle").data(pts).join("circle")
      .attr("cx", d => x(day(d.t))).attr("cy", d => y(d.v)).attr("r", 1.4)
      .attr("fill", seriesColors[si]);
  });

  // frame
  g.append("rect").attr("x", x0).attr("y", p.top).attr("width", x1 - x0).attr("height", p.bottom - p.top)
    .attr("fill", "none").attr("stroke", AX).attr("stroke-width", 1);

  const styleAxis = sel => { sel.select(".domain").remove(); sel.selectAll("line").attr("stroke", AX); };

  // y axes (left with labels, right mirrored), major long, minor short
  const lmaj = d3.axisLeft(y).tickValues(p.major).tickFormat((d, i) => p.labels[i]).tickSizeInner(-16).tickSizeOuter(0).tickPadding(4.5);
  g.append("g").attr("transform", `translate(${x0},0)`).call(lmaj).call(styleAxis)
    .call(s => s.selectAll("text").attr("font-family", FONT).attr("font-size", 19.5).attr("fill", TXT));
  g.append("g").attr("transform", `translate(${x0},0)`).call(d3.axisLeft(y).tickValues(p.minor).tickFormat("").tickSizeInner(-8).tickSizeOuter(0)).call(styleAxis);
  g.append("g").attr("transform", `translate(${x1},0)`).call(d3.axisRight(y).tickValues(p.major).tickFormat("").tickSizeInner(-16).tickSizeOuter(0)).call(styleAxis);
  g.append("g").attr("transform", `translate(${x1},0)`).call(d3.axisRight(y).tickValues(p.minor).tickFormat("").tickSizeInner(-8).tickSizeOuter(0)).call(styleAxis);

  // x axes top & bottom
  const majDates = majorTickDays.map(day), minDates = minorTickDays.map(day);
  g.append("g").attr("transform", `translate(0,${p.top})`).call(d3.axisTop(x).tickValues(majDates).tickFormat("").tickSizeInner(-16).tickSizeOuter(0)).call(styleAxis);
  g.append("g").attr("transform", `translate(0,${p.top})`).call(d3.axisTop(x).tickValues(minDates).tickFormat("").tickSizeInner(-7.5).tickSizeOuter(0)).call(styleAxis);
  const showLabels = pi === panels.length - 1;
  g.append("g").attr("transform", `translate(0,${p.bottom})`)
    .call(d3.axisBottom(x).tickValues(majDates).tickFormat((d, i) => showLabels ? majorTickLabels[i] : "").tickSizeInner(-16).tickSizeOuter(0).tickPadding(7))
    .call(styleAxis)
    .call(s => s.selectAll("text").attr("font-family", FONT).attr("font-size", 19).attr("fill", TXT));
  g.append("g").attr("transform", `translate(0,${p.bottom})`).call(d3.axisBottom(x).tickValues(minDates).tickFormat("").tickSizeInner(-7.5).tickSizeOuter(0)).call(styleAxis);

  // panel tag
  g.append("text").attr("x", 12).attr("y", p.top + 25).text(p.tag)
    .attr("font-family", FONT).attr("font-size", 28).attr("fill", TXT);

  // y title
  const t = g.append("text").attr("transform", `translate(44,${p.titleY}) rotate(-90)`)
    .attr("text-anchor", "middle").attr("font-family", FONT).attr("font-size", 22).attr("fill", TXT);
  let inSub = false;
  p.title.forEach(([s, it, sub]) => {
    const ts = t.append("tspan").text(s);
    if (it) ts.attr("font-style", "italic");
    if (sub && !inSub) ts.attr("dy", 5);
    if (!sub && inSub) ts.attr("dy", -5);
    if (sub) ts.attr("font-size", 15);
    inSub = !!sub;
  });
});
</script>
</body></html>
